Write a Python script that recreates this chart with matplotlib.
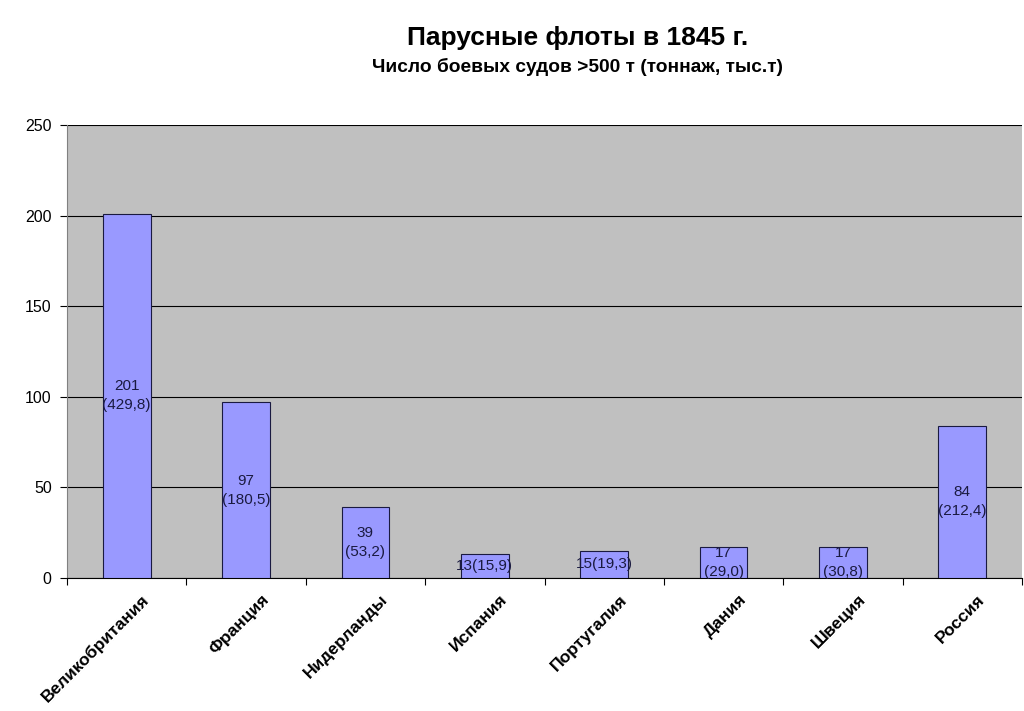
import matplotlib
matplotlib.use("Agg")
import matplotlib.pyplot as plt
from matplotlib.transforms import ScaledTranslation

plt.rcParams['font.family'] = ['Liberation Sans', 'DejaVu Sans']

countries = ["Великобритания", "Франция", "Нидерланды", "Испания",
             "Португалия", "Дания", "Швеция", "Россия"]
ships = [201, 97, 39, 13, 15, 17, 17, 84]
tonnage = ["429,8", "180,5", "53,2", "15,9", "19,3", "29,0", "30,8", "212,4"]
one_line = [False, False, False, True, True, False, False, False]
yticks = [0, 50, 100, 150, 200, 250]

fig = plt.figure(figsize=(10.24, 7.11), dpi=100)
ax = fig.add_axes([67/1024, 1-578/711, (1022-67)/1024, (578-125)/711])
ax.set_facecolor("#C0C0C0")

x = list(range(len(countries)))
ax.bar(x, ships, width=0.4, color="#9999FF", edgecolor="#1a1a40", linewidth=0.8, zorder=3)

for xi, s, t, ol in zip(x, ships, tonnage, one_line):
    label = f"{s}({t})" if ol else f"{s}\n({t})"
    ax.text(xi, s/2, label, ha="center", va="center", fontsize=11,
            color="#1a1a40", zorder=4, linespacing=1.45)

ax.set_xlim(-0.5, len(countries)-0.5)
ax.set_ylim(0, 250)
ax.set_yticks(yticks)
ax.yaxis.grid(True, color="black", linewidth=0.8, zorder=0)
ax.set_axisbelow(True)
ax.tick_params(axis="y", direction="out", length=5, labelsize=11.5, pad=6)

ax.set_xticks([i - 0.5 for i in range(len(countries)+1)], minor=False)
ax.set_xticklabels([])
ax.tick_params(axis="x", direction="out", length=5)
ax.set_xticks(x, minor=True)
ax.set_xticklabels(countries, minor=True, rotation=45, ha="right",
                   rotation_mode="anchor", fontsize=12.5, fontweight="bold")
ax.tick_params(axis="x", which="minor", length=0, pad=10)
offset = ScaledTranslation(15/100, 0, fig.dpi_scale_trans)
for lbl in ax.get_xticklabels(minor=True):
    lbl.set_transform(lbl.get_transform() + offset)

for side in ["top", "right"]:
    ax.spines[side].set_visible(False)
ax.spines["left"].set_color("#808080")
ax.spines["bottom"].set_color("black")

fig.text(578/1024, 1-38/711, "Парусные флоты в 1845 г.", ha="center", va="center",
         fontsize=19, fontweight="bold")
fig.text(578/1024, 1-67/711, "Число боевых судов >500 т (тоннаж, тыс.т)", ha="center",
         va="center", fontsize=13.8, fontweight="bold")

fig.savefig("out.png", dpi=100)
